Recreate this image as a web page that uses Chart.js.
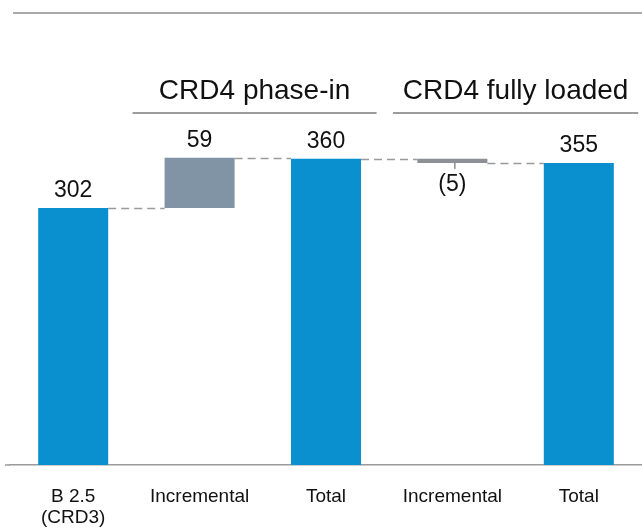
<!DOCTYPE html>
<html>
<head>
<meta charset="utf-8">
<script src="https://cdn.jsdelivr.net/npm/chart.js@4/dist/chart.umd.min.js"></script>
<style>
  html, body { margin: 0; padding: 0; background: #ffffff; }
  #wrap { width: 642px; height: 531px; }
</style>
</head>
<body>
<div id="wrap"><canvas id="c" width="642" height="531"></canvas></div>
<script>
// Capital requirement bridge: B 2.5 (CRD3) -> CRD4 phase-in -> CRD4 fully loaded
const categories = [['B 2.5', '(CRD3)'], 'Incremental', 'Total', 'Incremental', 'Total'];
const values = [302, 59, 360, -5, 355];
const barKinds = ['total', 'step', 'total', 'step', 'total'];
const valueLabels = ['302', '59', '360', '(5)', '355'];
const groupHeaders = ['CRD4 phase-in', 'CRD4 fully loaded'];

const FONT = '"Liberation Sans", Arial, Helvetica, sans-serif';
const BLUE = '#0a8fcf';
const STEP_UP = '#8194a5';
const STEP_DOWN = '#8d9196';

// floating bar ranges and running totals after each bar
const ranges = [];
const levels = [];
let running = 0;
values.forEach((v, i) => {
  if (barKinds[i] === 'total') {
    ranges.push([0, v]);
    running = v;
  } else {
    ranges.push([running, running + v]);
    running += v;
  }
  levels.push(running);
});
const barColors = values.map((v, i) =>
  barKinds[i] === 'total' ? BLUE : (v >= 0 ? STEP_UP : STEP_DOWN));

const bridgeDecor = {
  id: 'bridgeDecor',
  beforeDatasetsDraw(chart) {
    const ctx = chart.ctx;
    const bars = chart.getDatasetMeta(0).data;
    const y = chart.scales.y;
    ctx.save();
    // dashed connectors between consecutive bars
    ctx.strokeStyle = '#9a9a9a';
    ctx.lineWidth = 1.5;
    ctx.setLineDash([8, 5]);
    for (let i = 0; i < bars.length - 1; i++) {
      const a = bars[i], b = bars[i + 1];
      const py = Math.round(y.getPixelForValue(levels[i])) + 0.5;
      ctx.beginPath();
      ctx.moveTo(a.x + a.width / 2, py);
      ctx.lineTo(b.x - b.width / 2, py);
      ctx.stroke();
    }
    ctx.restore();
  },
  afterDatasetsDraw(chart, args, opts) {
    const ctx = chart.ctx;
    const bars = chart.getDatasetMeta(0).data;
    const x = chart.scales.x;
    const area = chart.chartArea;
    ctx.save();

    // rule across the top
    ctx.strokeStyle = '#a9a9a9';
    ctx.lineWidth = 2;
    ctx.beginPath();
    ctx.moveTo(13, 13);
    ctx.lineTo(642, 13);
    ctx.stroke();

    // short lead-in of the baseline left of the plot area
    ctx.strokeStyle = '#9a9a9a';
    ctx.lineWidth = 1.5;
    ctx.beginPath();
    ctx.moveTo(5, area.bottom);
    ctx.lineTo(area.left, area.bottom);
    ctx.stroke();

    // group headers with underlines
    ctx.fillStyle = '#111';
    ctx.font = '28px ' + FONT;
    ctx.textAlign = 'center';
    ctx.textBaseline = 'alphabetic';
    opts.spans.forEach((span, g) => {
      const x0 = x.getPixelForValue(span[0]);
      const x1 = x.getPixelForValue(span[1]);
      ctx.fillText(groupHeaders[g], (x0 + x1) / 2, 99);
      ctx.strokeStyle = '#9c9c9c';
      ctx.lineWidth = 2;
      ctx.beginPath();
      ctx.moveTo(x0, 113);
      ctx.lineTo(x1, 113);
      ctx.stroke();
    });

    // value labels
    ctx.font = '23px ' + FONT;
    bars.forEach((bar, i) => {
      const top = Math.min(bar.y, bar.base);
      const bottom = Math.max(bar.y, bar.base);
      if (values[i] >= 0) {
        ctx.fillText(valueLabels[i], bar.x, top - 11);
      } else {
        ctx.strokeStyle = '#555';
        ctx.lineWidth = 1;
        ctx.beginPath();
        ctx.moveTo(bar.x + 2.5, bottom);
        ctx.lineTo(bar.x + 2.5, bottom + 6);
        ctx.stroke();
        ctx.fillText(valueLabels[i], bar.x, bottom + 28);
      }
    });
    ctx.restore();
  }
};

new Chart(document.getElementById('c'), {
  type: 'bar',
  data: {
    labels: categories,
    datasets: [{
      data: ranges,
      backgroundColor: barColors,
      borderWidth: 0,
      categoryPercentage: 1,
      barPercentage: 0.554
    }]
  },
  options: {
    responsive: false,
    animation: false,
    events: [],
    layout: { padding: { left: 10, right: 0, top: 39.5, bottom: 0 } },
    plugins: {
      legend: { display: false },
      tooltip: { enabled: false },
      bridgeDecor: { spans: [[0.47, 2.40], [2.53, 4.47]] }
    },
    scales: {
      x: {
        grid: { display: false, drawTicks: false },
        border: { display: true, color: '#9a9a9a', width: 1.5 },
        ticks: {
          color: '#111',
          font: { family: FONT, size: 19, lineHeight: 1.1 },
          padding: 21,
          maxRotation: 0,
          autoSkip: false
        },
        afterFit(scale) { scale.height = 66; }
      },
      y: {
        display: false,
        min: 0,
        max: 500
      }
    }
  },
  plugins: [bridgeDecor]
});
</script>
</body>
</html>
